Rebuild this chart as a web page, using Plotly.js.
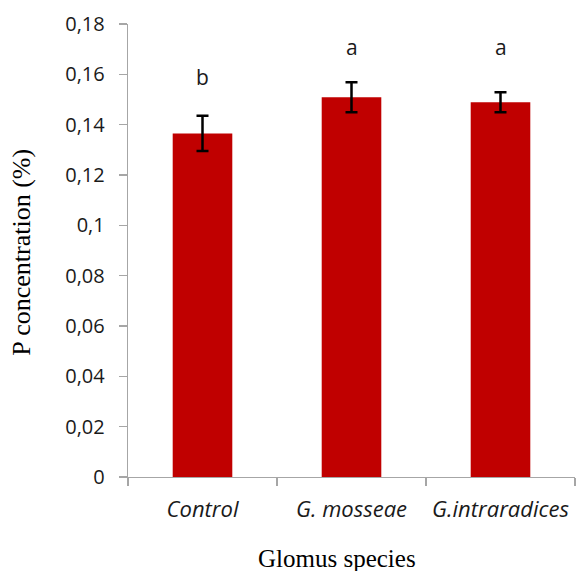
<!DOCTYPE html>
<html>
<head>
<meta charset="utf-8">
<script src="https://cdn.plot.ly/plotly-3.0.1.min.js"></script>
<style>
  html, body { margin: 0; padding: 0; background: #fff; }
  #chart { width: 577px; height: 571px; }
</style>
</head>
<body>
<div id="chart"></div>
<script>
// Phosphorus concentration by Glomus inoculation treatment
const species = ['Control', 'G. mosseae', 'G.intraradices'];
const pConcentration = [0.1365, 0.1509, 0.1489];
const stdError = [0.007, 0.006, 0.004];
const groupLetters = ['b', 'a', 'a'];
const letterHeights = [0.159, 0.171, 0.171];

const yTickValues = [0, 0.02, 0.04, 0.06, 0.08, 0.1, 0.12, 0.14, 0.16, 0.18];
const yTickLabels = ['0', '0,02', '0,04', '0,06', '0,08', '0,1', '0,12', '0,14', '0,16', '0,18'];

const axisGrey = '#a6a6a6';
const sansFamily = 'Open Sans, Liberation Sans, sans-serif';
const tickFont = { family: sansFamily, size: 20, color: '#1a1a1a' };

const trace = {
  type: 'bar',
  x: species,
  y: pConcentration,
  marker: { color: '#c00000', line: { width: 0 } },
  error_y: {
    type: 'data',
    array: stdError,
    visible: true,
    color: '#000000',
    thickness: 2.5,
    width: 6
  },
  hoverinfo: 'none'
};

const letterNotes = species.map((s, i) => ({
  x: s,
  y: letterHeights[i],
  xref: 'x',
  yref: 'y',
  text: groupLetters[i],
  showarrow: false,
  font: { family: sansFamily, size: 21, color: '#1a1a1a' }
}));

const serifFamily = 'Liberation Serif, Times New Roman, serif';

const layout = {
  width: 577,
  height: 571,
  margin: { l: 128, r: 2, t: 24, b: 94 },
  paper_bgcolor: '#ffffff',
  plot_bgcolor: '#ffffff',
  showlegend: false,
  bargap: 0.6,
  xaxis: {
    type: 'category',
    range: [-0.5, 2.5],
    showline: true,
    linecolor: axisGrey,
    linewidth: 1.3,
    ticks: 'outside',
    tickson: 'boundaries',
    ticklen: 8,
    tickcolor: axisGrey,
    tickwidth: 1.3,
    showgrid: false,
    zeroline: false,
    tickfont: { family: sansFamily, size: 22, color: '#1a1a1a', style: 'italic' },
    ticklabelstandoff: 12
  },
  yaxis: {
    range: [0, 0.18],
    tickvals: yTickValues,
    ticktext: yTickLabels,
    showline: true,
    linecolor: axisGrey,
    linewidth: 1.3,
    ticks: 'outside',
    ticklen: 8,
    tickcolor: axisGrey,
    tickwidth: 1.3,
    showgrid: false,
    zeroline: false,
    tickfont: tickFont,
    ticklabelstandoff: 10
  },
  annotations: letterNotes.concat([
    {
      text: 'P concentration (%)',
      xref: 'paper', yref: 'paper',
      x: -0.237, y: 0.495,
      xanchor: 'center', yanchor: 'middle',
      textangle: -90,
      showarrow: false,
      font: { family: serifFamily, size: 26, color: '#000' }
    },
    {
      text: 'Glomus species',
      xref: 'paper', yref: 'paper',
      x: 0.467, y: -0.18,
      xanchor: 'center', yanchor: 'middle',
      showarrow: false,
      font: { family: serifFamily, size: 25, color: '#000' }
    }
  ])
};

Plotly.newPlot('chart', [trace], layout, { displayModeBar: false, staticPlot: true });
</script>
</body>
</html>
